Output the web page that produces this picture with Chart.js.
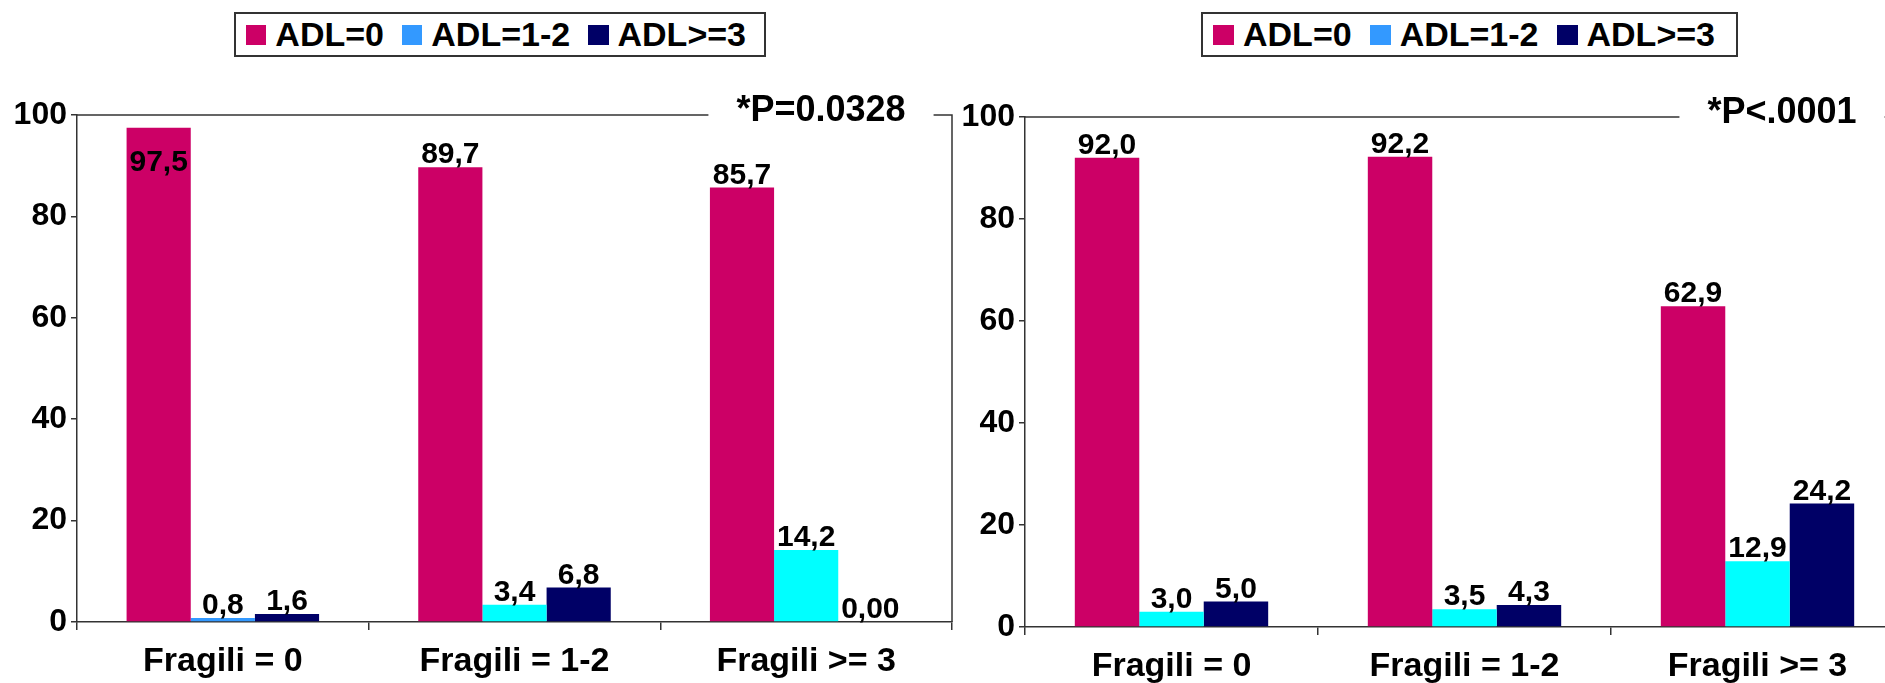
<!DOCTYPE html>
<html>
<head>
<meta charset="utf-8">
<script src="https://cdn.jsdelivr.net/npm/chart.js@4/dist/chart.umd.min.js"></script>
<style>
  html, body { margin: 0; padding: 0; background: #fff; overflow: hidden; width: 1885px; height: 683px; }
  canvas { position: absolute; top: 0; }
  .legend {
    position: absolute; top: 12px; height: 45px; box-sizing: border-box;
    border: 2px solid #333; background: #fff;
    display: flex; align-items: center; padding-left: 10px;
    font: bold 34px "Liberation Sans", Arial, sans-serif; color: #000; white-space: nowrap;
  }
  .legend span.box { display: inline-block; width: 21px; height: 20px; margin-right: 9px; }
  .legend span.txt { margin-right: 18px; }
</style>
</head>
<body>
<div class="legend" id="legend-left" style="left:234px;width:532px"></div>
<div class="legend" id="legend-right" style="left:1201px;width:537px"></div>
<canvas id="left" width="958" height="683" style="left:0;width:958px;height:683px"></canvas>
<canvas id="right" width="950" height="700" style="left:958px;width:950px;height:700px"></canvas>
<script>
const FONT = '"Liberation Sans", Arial, sans-serif';

const categories = ['Fragili = 0', 'Fragili = 1-2', 'Fragili >= 3'];
const seriesNames = ['ADL=0', 'ADL=1-2', 'ADL>=3'];
const legendColors = ['#cc0066', '#3399ff', '#000066'];

// left panel
const leftAdl0 = [97.5, 89.7, 85.7];
const leftAdl12 = [0.8, 3.4, 14.2];
const leftAdl3 = [1.6, 6.8, 0];
const leftAdl12Colors = ['#3399ff', '#00ffff', '#00ffff'];
const leftP = '*P=0.0328';

// right panel
const rightAdl0 = [92.0, 92.2, 62.9];
const rightAdl12 = [3.0, 3.5, 12.9];
const rightAdl3 = [5.0, 4.3, 24.2];
const rightAdl12Colors = ['#00ffff', '#00ffff', '#00ffff'];
const rightP = '*P<.0001';

const yTicks = [0, 20, 40, 60, 80, 100];

function fmt(v) {
  return v === 0 ? '0,00' : v.toFixed(1).replace('.', ',');
}

function buildLegend(id) {
  const el = document.getElementById(id);
  el.innerHTML = seriesNames.map((n, i) =>
    `<span class="box" style="background:${legendColors[i]}"></span><span class="txt">${n}</span>`).join('');
}

// value labels above bars (inside when there's no room)
const valueLabels = {
  id: 'valueLabels',
  afterDatasetsDraw(chart) {
    const ctx = chart.ctx;
    const top = chart.chartArea.top;
    ctx.save();
    ctx.font = 'bold 30px ' + FONT;
    ctx.fillStyle = '#000';
    ctx.textAlign = 'center';
    ctx.textBaseline = 'alphabetic';
    chart.data.datasets.forEach((ds, i) => {
      chart.getDatasetMeta(i).data.forEach((bar, j) => {
        let y = bar.y - 4;
        if (y - 24 < top) y = bar.y + 43;
        ctx.fillText(fmt(ds.data[j]), bar.x, y);
      });
    });
    ctx.restore();
  }
};

// top / right border of plot box plus the p-value text
const frame = {
  id: 'frame',
  afterDraw(chart, args, opts) {
    const { ctx, chartArea: a } = chart;
    ctx.save();
    ctx.strokeStyle = '#333';
    ctx.lineWidth = 1.5;
    ctx.beginPath();
    ctx.moveTo(a.left, a.top);
    ctx.lineTo(a.right, a.top);
    ctx.lineTo(a.right, a.bottom);
    ctx.stroke();
    ctx.font = 'bold 36px ' + FONT;
    const w = ctx.measureText(opts.text).width;
    const cx = a.right - opts.offset;
    ctx.fillStyle = '#fff';
    ctx.fillRect(cx - w / 2 - 28, a.top - 30, w + 56, 40);
    ctx.fillStyle = '#000';
    ctx.textAlign = 'center';
    ctx.textBaseline = 'middle';
    ctx.fillText(opts.text, cx, a.top - 4);
    ctx.restore();
  }
};

function makeChart(id, adl0, adl12, adl12Colors, adl3, pText, pOffset, yWidth, xHeight, pad) {
  return new Chart(document.getElementById(id), {
    type: 'bar',
    data: {
      labels: categories,
      datasets: [
        { label: seriesNames[0], data: adl0, backgroundColor: legendColors[0] },
        { label: seriesNames[1], data: adl12, backgroundColor: adl12Colors },
        { label: seriesNames[2], data: adl3, backgroundColor: legendColors[2] }
      ]
    },
    options: {
      responsive: false,
      animation: false,
      devicePixelRatio: 1,
      layout: { padding: pad },
      datasets: { bar: { categoryPercentage: 0.66, barPercentage: 1.0 } },
      plugins: {
        legend: { display: false },
        tooltip: { enabled: false },
        frame: { text: pText, offset: pOffset }
      },
      scales: {
        x: {
          grid: { drawOnChartArea: false, offset: true, color: '#333', lineWidth: 1.5, tickLength: 8 },
          border: { color: '#333', width: 1.5 },
          ticks: { color: '#000', font: { family: FONT, size: 34, weight: 'bold' }, padding: 11, maxRotation: 0, autoSkip: false },
          afterFit(s) { s.height = xHeight; }
        },
        y: {
          min: 0, max: 100,
          afterBuildTicks(s) { s.ticks = yTicks.map(v => ({ value: v })); },
          grid: { drawOnChartArea: false, color: '#333', lineWidth: 1.5, tickLength: 6 },
          border: { color: '#333', width: 1.5 },
          ticks: { color: '#000', font: { family: FONT, size: 32, weight: 'bold' }, padding: 4 },
          afterFit(s) { s.width = yWidth; }
        }
      }
    },
    plugins: [valueLabels, frame]
  });
}

buildLegend('legend-left');
buildLegend('legend-right');
makeChart('left', leftAdl0, leftAdl12, leftAdl12Colors, leftAdl3, leftP, 131, 77, 61, { top: 115, right: 6, left: 0, bottom: 0 });
makeChart('right', rightAdl0, rightAdl12, rightAdl12Colors, rightAdl3, rightP, 122, 67, 73, { top: 117, right: 4, left: 0, bottom: 0 });
</script>
</body>
</html>
